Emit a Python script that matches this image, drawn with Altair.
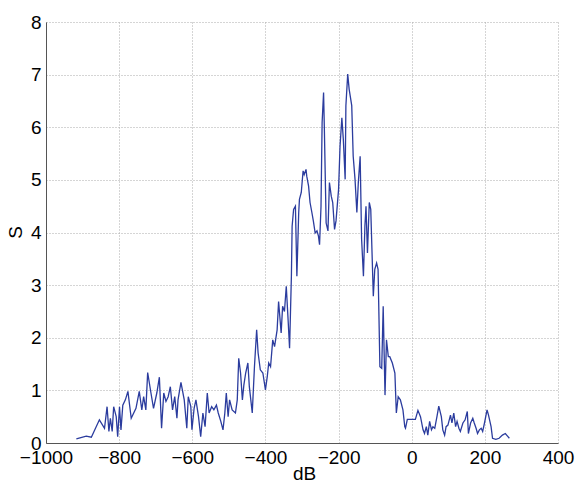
import altair as alt
import pandas as pd

x_db = [-917, -890, -876, -854, -840, -833, -828, -824, -819, -815, -808, -804, -799, -795, -790, -783, -776, -767, -754, -745,
        -738, -733, -727, -722, -713, -706, -697, -690, -684, -678, -672, -666, -660, -654, -648, -642, -639, -631, -622, -615,
        -611, -604,
        -601, -595, -590, -583, -577, -571, -565, -559, -554, -547, -541, -534, -529, -522, -516, -511, -507, -502, -498, -491,
        -482, -477, -473, -468, -463, -459, -454, -448, -444, -436, -430, -424, -420, -414, -407, -400, -395, -391, -386, -380,
        -375, -368, -364, -357, -353, -348, -343, -338, -334, -329,
        -327, -323, -318, -314, -309, -307, -302, -297, -294, -289, -287, -282, -278, -273, -269, -264, -259, -255, -252, -248,
        -245, -241, -239, -234, -229, -225, -220, -216, -211, -207, -200, -196, -191, -187, -182, -180, -175, -171, -164, -160,
        -155, -150, -146, -141, -137, -132, -128, -125, -121, -116, -112, -105, -101, -96, -92, -87, -82, -78, -73, -69,
        -64, -60, -53, -46, -42, -37, -31, -24, -19,
        -17, -12, -1, 10, 17, 24, 31, 35, 40, 44, 49, 54, 58, 63, 69, 74, 81, 85, 90, 94,
        99, 106, 110, 115, 120, 124, 129, 133, 140, 146, 152, 155, 161, 167, 171, 176, 180, 185, 190, 194,
        199, 206, 210, 217, 221, 230, 239, 248, 256, 262, 267]

s_values = [0.08, 0.13, 0.11, 0.44, 0.28, 0.69, 0.22, 0.47, 0.22, 0.69, 0.5, 0.12, 0.69, 0.25, 0.72, 0.82, 0.98, 0.47, 0.66, 0.98,
            0.63, 0.88, 0.63, 1.34, 0.95, 0.66, 0.95, 1.25, 0.28, 0.95, 0.79, 0.88, 1.07, 0.63, 0.88, 0.47, 0.82, 1.15, 0.82, 0.28,
            0.88, 0.69,
            0.25, 0.66, 0.82, 0.5, 0.12, 0.57, 0.31, 0.95, 0.57, 0.69, 0.63, 0.72, 0.57, 0.41, 0.25, 0.57, 0.95, 0.5, 0.82, 0.63,
            0.57, 0.82, 1.61, 1.33, 0.82, 1.10, 1.33, 1.52, 1.07, 0.57, 1.45, 2.15, 1.71, 1.39, 1.33, 1.01, 1.26, 1.52, 1.45, 1.96,
            1.83, 2.15, 2.69, 2.09, 2.6, 2.5, 2.98, 2.34, 1.80, 3.17,
            4.12, 4.44, 4.5, 3.17, 4.38, 4.63, 4.76, 5.17, 5.10, 5.2, 5.07, 4.88, 4.57, 4.38, 4.22, 3.99, 4.03, 3.93, 3.77, 4.5,
            6.09, 6.66, 6.02, 4.18, 4.03, 4.95, 4.69, 4.57, 4.06, 4.22, 4.82, 5.64, 6.18, 5.77, 5.01, 6.41, 7.01, 6.72, 6.41, 5.45,
            5.01, 4.38, 4.95, 5.45, 3.87, 3.17, 4.12, 4.5, 3.61, 4.57, 4.44, 2.79, 3.30, 3.42, 3.30, 1.45, 1.42, 2.6, 0.91, 1.96,
            1.64, 1.64, 1.52, 1.33, 0.57, 0.88, 0.82, 0.63, 0.31,
            0.28, 0.45, 0.45, 0.45, 0.62, 0.5, 0.25, 0.18, 0.31, 0.15, 0.41, 0.25, 0.31, 0.28, 0.5, 0.70, 0.5, 0.25, 0.15, 0.31,
            0.34, 0.53, 0.38, 0.57, 0.31, 0.41, 0.28, 0.22, 0.38, 0.44, 0.6, 0.18, 0.38, 0.47, 0.38, 0.28, 0.18, 0.25, 0.28, 0.22,
            0.38, 0.63, 0.53, 0.31, 0.09, 0.07, 0.09, 0.15, 0.18, 0.13, 0.09]

x_ticks = [-1000, -800, -600, -400, -200, 0, 200, 400]
y_ticks = [0, 1, 2, 3, 4, 5, 6, 7, 8]

df = pd.DataFrame({"dB": x_db, "S": s_values})

FONT = "Liberation Sans"

chart = alt.Chart(df).mark_line(color="#2b3c9e", strokeWidth=1.3).encode(
    x=alt.X("dB:Q",
            scale=alt.Scale(domain=[-1000, 400], nice=False, zero=False),
            axis=alt.Axis(values=x_ticks, title="dB", format="d",
                          titleX=258, titleY=36, titleBaseline="alphabetic",
                          labelPadding=5)),
    y=alt.Y("S:Q",
            scale=alt.Scale(domain=[0, 8], nice=False),
            axis=alt.Axis(values=y_ticks, title="S", format="d",
                          titleX=-21, titleY=210, titleAngle=-90,
                          titleBaseline="bottom", titleAlign="center",
                          labelPadding=5)),
).properties(
    width=512,
    height=421,
    padding={"left": 38, "top": 14, "right": 17, "bottom": 40},
    autosize=alt.AutoSizeParams(type="none"),
    background="white",
).configure_view(
    stroke=None
).configure_axis(
    labelFont=FONT, titleFont=FONT, labelFontSize=19, titleFontSize=19,
    labelColor="#000", titleColor="#000", titleFontWeight="normal",
    domainColor="#555", domainWidth=1, ticks=False,
    grid=True, gridColor="#aaaaaa", gridDash=[1, 2], gridWidth=1,
    labelFlush=False, labelOverlap=False,
)

chart.save("out.html", embed_options={"renderer": "svg", "actions": False})
